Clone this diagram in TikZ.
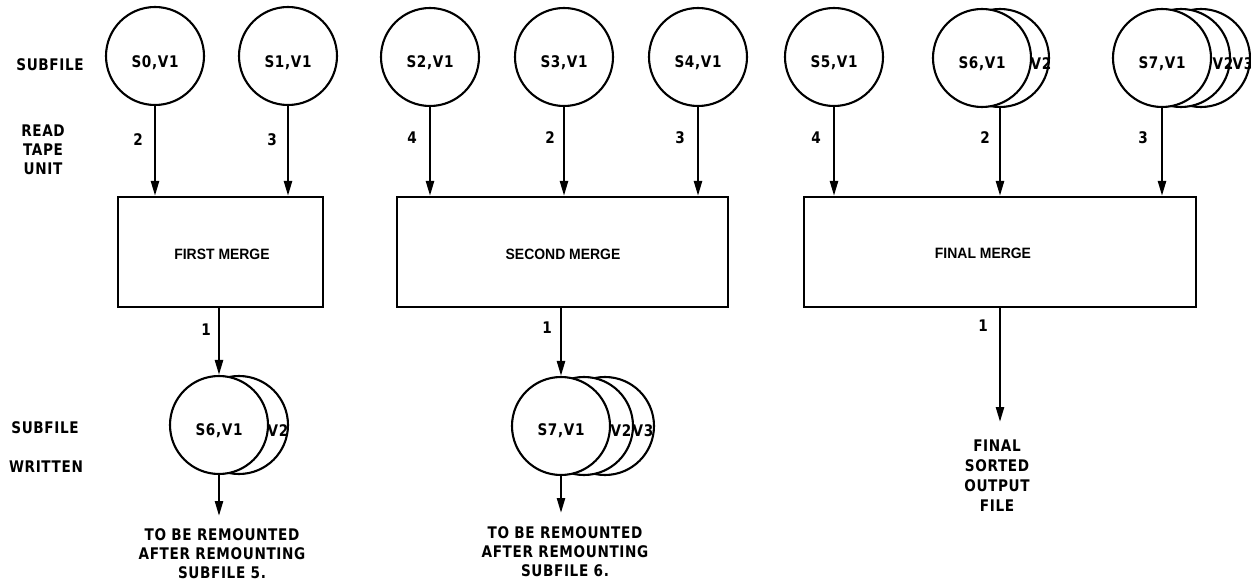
\documentclass[tikz,border=0pt]{standalone}
\usepackage{fontspec}
\setmainfont{Liberation Sans}
\newfontfamily\labfont{DejaVu Sans}[LetterSpace=4,FakeStretch=0.85]
\newfontfamily\boxfont{Liberation Sans}[FakeStretch=0.93]
\usetikzlibrary{arrows.meta}
\begin{document}
\begin{tikzpicture}[x=1pt,y=-1pt,
  vol/.style={circle, draw, line width=2.1pt, fill=white, minimum size=98pt, inner sep=0pt},
  box/.style={draw, line width=2.2pt, inner sep=0pt},
  arr/.style={line width=2.4pt, -{Triangle[length=15pt,width=8pt]}},
  lab/.style={font=\labfont\bfseries\fontsize{16}{20}\selectfont, align=center, inner sep=0pt},
  side/.style={font=\labfont\bfseries\fontsize{16}{19}\selectfont, align=center, inner sep=0pt},
  mtxt/.style={font=\boxfont\bfseries\fontsize{15}{17}\selectfont, inner sep=0pt}]
\useasboundingbox (0,0) rectangle (1251,585);

% side labels
\node[side] (lsub) at (50,65) {SUBFILE};
\node[side] (lread) at (43,150) {READ\\TAPE\\UNIT};
\node[side] (lsub2) at (45,428) {SUBFILE};
\node[side] (lwri) at (46,467) {WRITTEN};

% boxes
\node[box, minimum width=205pt, minimum height=110pt] (b1) at (220.5,252) {};
\node[box, minimum width=331pt, minimum height=110pt] (b2) at (562.5,252) {};
\node[box, minimum width=392pt, minimum height=110pt] (b3) at (1000,252) {};
\node[mtxt] (t1) at (222,254) {FIRST MERGE};
\node[mtxt] (t2) at (563,254) {SECOND MERGE};
\node[mtxt] (t3) at (983,253) {FINAL MERGE};

% top volumes
\node[vol] (s0) at (155,56) {};
\node[vol] (s1) at (288,56) {};
\node[vol] (s2) at (430,57) {};
\node[vol] (s3) at (564,57) {};
\node[vol] (s4) at (698,57) {};
\node[vol] (s5) at (834,57) {};
\node[vol] (s6b) at (1000,58) {};
\node[vol] (s6) at (982,58) {};
\node[vol] (s7c) at (1201,58) {};
\node[vol] (s7b) at (1181,58) {};
\node[vol] (s7) at (1162,58) {};

\node[lab] at (155,63) {S0,V1};
\node[lab] at (288,63) {S1,V1};
\node[lab] at (430,63) {S2,V1};
\node[lab] at (564,63) {S3,V1};
\node[lab] at (698,63) {S4,V1};
\node[lab] at (834,63) {S5,V1};
\node[lab] at (982,64) {S6,V1};
\node[lab] at (1041,64) {V2};
\node[lab] at (1162,64) {S7,V1};
\node[lab] at (1223,64) {V2};
\node[lab] at (1243,64) {V3};

% read arrows
\draw[arr] (s0.south) -- (s0.south |- b1.north);
\draw[arr] (s1.south) -- (s1.south |- b1.north);
\draw[arr] (s2.south) -- (s2.south |- b2.north);
\draw[arr] (s3.south) -- (s3.south |- b2.north);
\draw[arr] (s4.south) -- (s4.south |- b2.north);
\draw[arr] (s5.south) -- (s5.south |- b3.north);
\draw[arr] (s6b.south) -- (s6b.south |- b3.north);
\draw[arr] (s7.south) -- (s7.south |- b3.north);

\node[lab] at (138,140) {2};
\node[lab] at (272,140) {3};
\node[lab] at (412,138) {4};
\node[lab] at (550,138) {2};
\node[lab] at (680,138) {3};
\node[lab] at (816,138) {4};
\node[lab] at (985,138) {2};
\node[lab] at (1143,138) {3};

% written volumes
\node[vol] (w6b) at (239,425) {};
\node[vol] (w6) at (219,425) {};
\node[vol] (w7c) at (605,426) {};
\node[vol] (w7b) at (584,426) {};
\node[vol] (w7) at (561,426) {};
\node[lab] at (219,431) {S6,V1};
\node[lab] at (278,431) {V2};
\node[lab] at (561,431) {S7,V1};
\node[lab] at (621,431) {V2};
\node[lab] at (643,431) {V3};

\draw[arr] (w6.north |- b1.south) -- (w6.north);
\draw[arr] (w7.north |- b2.south) -- (w7.north);
\node[lab] at (206,330) {1};
\node[lab] at (547,328) {1};
\node[lab] at (983,326) {1};

\coordinate (e6) at (219,516);
\coordinate (e7) at (561,513);
\coordinate (ef) at (1000,422);
\draw[arr] (w6.south) -- (e6);
\draw[arr] (w7.south) -- (e7);
\draw[arr] (b3.south) -- (ef);

\node[lab, font=\labfont\bfseries\fontsize{16}{19}\selectfont] at (222,554) {TO BE REMOUNTED\\AFTER REMOUNTING\\SUBFILE 5.};
\node[lab, font=\labfont\bfseries\fontsize{16}{19}\selectfont] at (565,552) {TO BE REMOUNTED\\AFTER REMOUNTING\\SUBFILE 6.};
\node[lab] at (997,476) {FINAL\\SORTED\\OUTPUT\\FILE};
\end{tikzpicture}
\end{document}
